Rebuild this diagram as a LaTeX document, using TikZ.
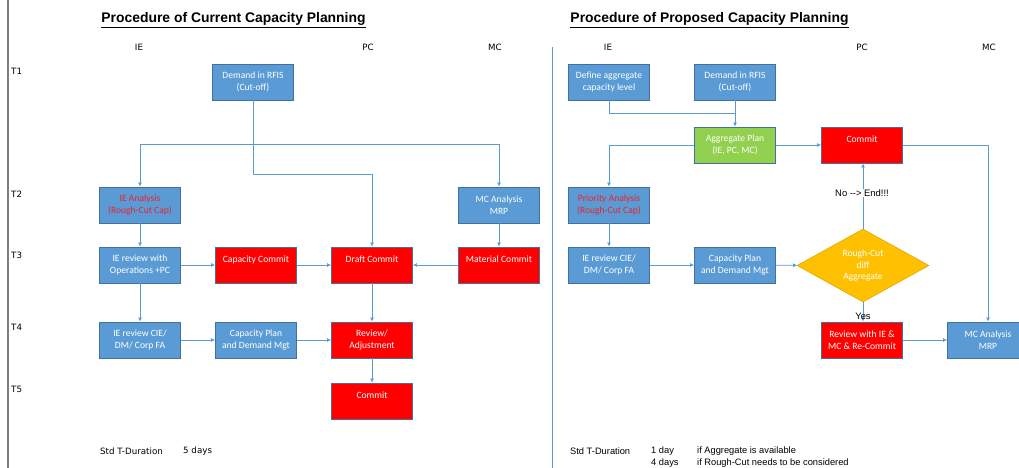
\documentclass[tikz,border=0pt]{standalone}
\usepackage{fontspec}
\setmainfont{Carlito}
\newfontfamily\arialfont{Liberation Sans}
\newfontfamily\tahomafont{DejaVu Sans}
\usetikzlibrary{arrows.meta,shapes.geometric}

\definecolor{boxblue}{HTML}{5B9BD5}
\definecolor{boxedge}{HTML}{41719C}
\definecolor{linkblue}{HTML}{5B9BD5}
\definecolor{commitred}{HTML}{FF0000}
\definecolor{aggreen}{HTML}{92D050}
\definecolor{decgold}{HTML}{FFC000}
\definecolor{decedge}{HTML}{E0A800}
\definecolor{railgray}{HTML}{7F7F7F}
\definecolor{alerttext}{HTML}{F0202A}

\begin{document}
\begin{tikzpicture}[x=1pt,y=-1pt,
  box/.style={draw=boxedge, line width=0.9pt, minimum width=81pt, minimum height=36pt,
    inner sep=0pt, align=center, text=white, font=\fontsize{9.6}{12.5}\selectfont},
  bluebox/.style={box, fill=boxblue},
  redbox/.style={box, fill=commitred},
  greenbox/.style={box, fill=aggreen},
  decision/.style={diamond, draw=decedge, line width=0.6pt, fill=decgold, aspect=1.8,
    minimum width=132pt, minimum height=73pt, inner sep=0pt, align=center, text=white,
    font=\fontsize{9.6}{11.5}\selectfont},
  link/.style={draw=linkblue, line width=0.7pt},
  arr/.style={link, -{Latex[length=4pt,width=4pt]}},
  heading/.style={inner sep=0pt, font=\arialfont\bfseries\fontsize{13.9}{16}\selectfont},
  lane/.style={inner sep=0pt, font=\tahomafont\fontsize{8.7}{10}\selectfont},
  note/.style={inner sep=0pt, anchor=west, font=\arialfont\fontsize{9.3}{11}\selectfont},
  flag/.style={inner sep=0pt, font=\arialfont\fontsize{9.4}{11}\selectfont},
]
\useasboundingbox (0,0) rectangle (1019,468);

% frame lines
\draw[railgray, line width=1.5pt] (8,0) -- (8,468);
\draw[linkblue, line width=0.8pt] (552,47) -- (552,468);

% ---------------- current procedure ----------------
\node[heading] (title1) at (233.5,20) {\underline{Procedure of Current Capacity Planning}};
\node[lane] (ie1) at (139,47) {IE};
\node[lane] (pc1) at (368,47) {PC};
\node[lane] (mc1) at (495,47) {MC};
\node[lane, anchor=west] (t1) at (11,71) {T1};
\node[lane, anchor=west] (t2) at (11,194) {T2};
\node[lane, anchor=west] (t3) at (11,255) {T3};
\node[lane, anchor=west] (t4) at (11,327) {T4};
\node[lane, anchor=west] (t5) at (11,389) {T5};

\node[bluebox] (dem1) at (253,82) {Demand in RFIS\\(Cut-off)};
\node[bluebox, text=alerttext] (iea) at (140,205) {IE Analysis\\(Rough-Cut Cap)};
\node[bluebox] (mca1) at (499,205) {MC Analysis\\MRP};
\node[bluebox] (ieo) at (140,265) {IE review with\\Operations +PC};
\node[redbox] (cc) at (256,265) {Capacity Commit\\\mbox{}};
\node[redbox] (dc) at (372,265) {Draft Commit\\\mbox{}};
\node[redbox] (matc) at (499,265) {Material Commit\\\mbox{}};
\node[bluebox] (iecie1) at (140,340) {IE review CIE/\\DM/ Corp FA};
\node[bluebox] (cpd1) at (256,340) {Capacity Plan\\and Demand Mgt};
\node[redbox] (rev1) at (372,340) {Review/\\Adjustment};
\node[redbox] (com1) at (372,401) {Commit\\\mbox{}};

\coordinate (split1) at (253,144);
\coordinate (bend1) at (253,174);
\draw[link] (dem1.south) -- (bend1);
\draw[arr] (split1) -| (iea.north);
\draw[arr] (split1) -| (mca1.north);
\draw[arr] (bend1) -| (dc.north);
\draw[arr] (iea) -- (ieo);
\draw[arr] (ieo) -- (iecie1);
\draw[arr] (ieo) -- (cc);
\draw[arr] (cc) -- (dc);
\draw[arr] (matc) -- (dc);
\draw[arr] (mca1) -- (matc);
\draw[arr] (iecie1) -- (cpd1);
\draw[arr] (cpd1) -- (rev1);
\draw[arr] (dc) -- (rev1);
\draw[arr] (rev1) -- (com1);

\node[lane, anchor=west] (std1) at (100,451) {Std T-Duration};
\node[lane, anchor=west] (days1) at (183,451) {5 days};

% ---------------- proposed procedure ----------------
\node[heading] (title2) at (709.5,20) {\underline{Procedure of Proposed Capacity Planning}};
\node[lane] (ie2) at (608,47) {IE};
\node[lane] (pc2) at (862,47) {PC};
\node[lane] (mc2) at (989,47) {MC};

\node[bluebox] (defagg) at (609,82) {Define aggregate\\capacity level};
\node[bluebox] (dem2) at (735,82) {Demand in RFIS\\(Cut-off)};
\node[greenbox] (aggp) at (735,145) {Aggregate Plan\\(IE, PC, MC)};
\node[redbox] (com2) at (862,145) {Commit\\\mbox{}};
\node[bluebox, text=alerttext] (pri) at (609,205) {Priority Analysis\\(Rough-Cut Cap)};
\node[bluebox] (iecie2) at (609,265) {IE review CIE/\\DM/ Corp FA};
\node[bluebox] (cpd2) at (735,265) {Capacity Plan\\and Demand Mgt};
\node[decision] (rc) at (863,265.5) {Rough-Cut\\diff\\Aggregate};
\node[redbox] (rev2) at (862,340) {Review with IE \&\\MC \& Re-Commit};
\node[bluebox] (mca2) at (988,340) {MC Analysis\\MRP};

\coordinate (join2) at (735,113);
\draw[link] (defagg.south) |- (join2);
\draw[arr] (dem2) -- (aggp);
\draw[arr] (aggp.west) -| (pri.north);
\draw[arr] (aggp) -- (com2);
\draw[arr] (com2.east) -| (mca2.north);
\draw[arr] (pri) -- (iecie2);
\draw[arr] (iecie2) -- (cpd2);
\draw[arr] (cpd2) -- (rc);
\draw[arr] (rc.north) -- (rc.north |- com2.south);
\draw[arr] (rc.south) -- (rc.south |- rev2.north);
\draw[arr] (rev2) -- (mca2);

\node[flag, fill=white, inner ysep=1pt] (nolabel) at (862,193) {No -{}-{}> End!!!};
\node[flag] (yeslabel) at (863,316) {Yes};

\node[note] (std2) at (570,451) {Std T-Duration};
\node[note] (d1) at (651,451) {1 day};
\node[note] (c1) at (697,451) {if Aggregate is available};
\node[note] (d4) at (651,463) {4 days};
\node[note] (c4) at (697,463) {if Rough-Cut needs to be considered};
\end{tikzpicture}
\end{document}
